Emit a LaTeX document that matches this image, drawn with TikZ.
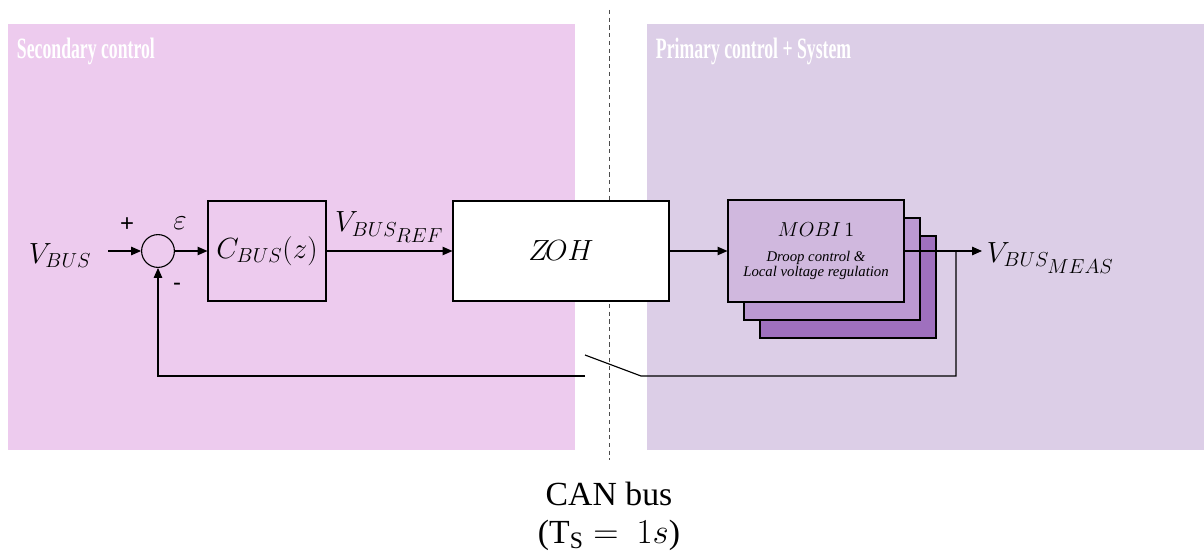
\documentclass[tikz,border=0pt]{standalone}
\usepackage{fontspec}
\setmainfont{Liberation Serif}
\newfontfamily\signfont{Liberation Sans}
\newfontfamily\mobifont{Liberation Serif}
\usetikzlibrary{arrows.meta, positioning}
\definecolor{secpink}{RGB}{237,203,238}
\definecolor{primlilac}{RGB}{220,206,231}
\definecolor{mobiA}{RGB}{208,184,222}
\definecolor{mobiB}{RGB}{187,153,210}
\definecolor{mobiC}{RGB}{159,112,190}

\begin{document}
\begin{tikzpicture}[scale=1.0, >={Triangle[length=7pt,width=6pt]},
	blk/.style={draw, line width=0.8pt, inner sep=0pt},
	wire/.style={line width=0.8pt},
	lbl/.style={font=\fontsize{20pt}{23pt}\selectfont},
	sign/.style={font=\signfont\fontsize{17pt}{19pt}\selectfont},
	title/.style={anchor=west, text=white, font=\fontsize{21pt}{24pt}\selectfont\bfseries}]
				\useasboundingbox (0,0) rectangle (30.1,13.875);
				
				\fill[secpink]   (0.2,2.625)    rectangle (14.375,13.275);
				\fill[primlilac] (16.175,2.625) rectangle (30.1,13.275);
				\draw[dash pattern=on 3pt off 2.5pt, line width=0.5pt, black!70] (15.225,13.625) -- (15.225,2.375);
				
				\node[title] (sectitle)  at (0.3,12.6)    {\scalebox{0.6}[1]{Secondary control}};
				\node[title] (primtitle) at (16.275,12.6) {\scalebox{0.6}[1]{Primary control + System}};
				
				\node[lbl] (vbus) at (1.5,7.48) {$V_{BUS}$};
				\node[draw, circle, wire, minimum size=0.82cm, inner sep=0pt] (sum) at (3.95,7.6) {};
				\node[sign] (plus)  at (3.175,8.25) {+};
				\node[sign] (minus) at (4.425,6.7) {-};
				\node[font=\fontsize{21pt}{24pt}\selectfont] (eps) at (4.5,8.3) {$\varepsilon$};
				
				\node[blk, lbl, minimum width=2.95cm, minimum height=2.5cm] (cbus) at (6.675,7.6) {$C_{BUS}(z)$};
				\node[blk, lbl, fill=white, minimum width=5.4cm, minimum height=2.5cm] (zoh) at (14.025,7.6) {$Z\!OH$};
				
				\node foreach \k/\c in {2/mobiC,1/mobiB}
				[blk, fill=\c, minimum width=4.4cm, minimum height=2.55cm] (mobi\k) at (20.4+\k*0.4,7.6-\k*0.45) {};
				\node[blk, fill=mobiA, minimum width=4.4cm, minimum height=2.55cm, align=center,
				font=\mobifont\itshape\fontsize{10.5pt}{10.5pt}\selectfont] (mobi0) at (20.4,7.6)
				{{\upshape\fontsize{15pt}{17pt}\selectfont $MOBI\,1$}\\[7pt] Droop control \&\\ Local voltage regulation};
				
				\node[lbl, anchor=west] (vmeas) at (24.55,7.43) {$V_{BUS_{\scriptstyle MEAS}}$};
				
				\node[align=center, font=\fontsize{24pt}{27pt}\selectfont] (can) at (15.225,0.97) {CAN bus\\(T$_\mathrm{S}=\ 1s$)};
				
				\draw[wire,->] ([xshift=0.3cm]vbus.east |- sum.west) -- (sum.west);
				\draw[wire,->] (sum.east)  -- (cbus.west);
				\draw[wire,->] (cbus.east) -- (zoh.west) node[midway, above=2pt, lbl] (vref) {$V_{BUS_{\scriptstyle REF}}$};
				\draw[wire,->] (zoh.east)  -- (mobi0.west);
				\draw[wire,->] (mobi0.east) -- (mobi0.east -| vmeas.west);
				
				% feedback through the sampler
				\coordinate (br)  at (23.9,7.6);
				\coordinate (swR) at (16.025,4.475);
				\coordinate (swT) at (14.625,5.0);
				\coordinate (swL) at (14.625,4.475);
				\draw[wire]    (br) |- (swR) -- (swT);
				\draw[wire,->] (swL) -| (sum.south);
			\end{tikzpicture}
\end{document}
